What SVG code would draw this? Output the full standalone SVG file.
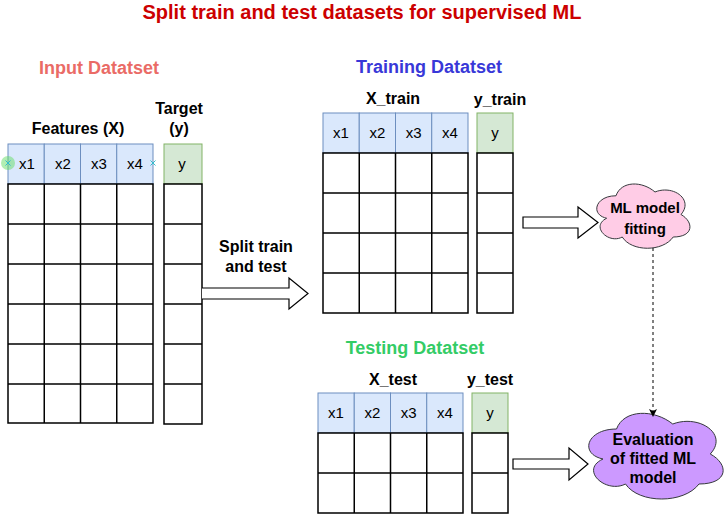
<svg xmlns="http://www.w3.org/2000/svg" width="728" height="514" viewBox="0 0 728 514">
<defs>
<style>
.t{font-family:"Liberation Sans",Arial,sans-serif;font-size:15px;fill:#000;text-anchor:middle}
.b{font-weight:bold;font-size:16px}
.h{font-weight:bold;font-size:18px}
.hx{fill:#dae8fc;stroke:#6c8ebf;stroke-width:1}
.hy{fill:#d5e8d4;stroke:#82b366;stroke-width:1}
.cell{fill:#fff;stroke:#000;stroke-width:1.5}
.blk{fill:#fff;stroke:#000;stroke-width:1.2}
</style>
<marker id="ah" markerWidth="10" markerHeight="10" refX="8" refY="5" orient="auto" markerUnits="userSpaceOnUse">
<path d="M1,1 L9,5 L1,9 L3,5 Z" fill="#000"/>
</marker>
</defs>
<rect width="728" height="514" fill="#fff"/>
<text x="362" y="19" class="t" style="font-size:20px;font-weight:bold;fill:#cc0000">Split train and test datasets for supervised ML</text>

<g id="input-dataset">
<text x="99" y="74" class="t h" style="fill:#ea6b66">Input Datatset</text>
<text x="78" y="134" class="t b">Features (X)</text>
<text x="179" y="114" class="t b">Target</text>
<text x="179" y="134" class="t b">(y)</text>
<g>
<rect x="8" y="144" width="36.25" height="40" class="hx"/>
<rect x="44.25" y="144" width="36.25" height="40" class="hx"/>
<rect x="80.5" y="144" width="36.25" height="40" class="hx"/>
<rect x="116.75" y="144" width="36.25" height="40" class="hx"/>
<text x="27" y="169" class="t">x1</text>
<text x="63" y="169" class="t">x2</text>
<text x="99" y="169" class="t">x3</text>
<text x="135" y="169" class="t">x4</text>
<rect x="164" y="144" width="38" height="40" class="hy"/>
<text x="182" y="169" class="t">y</text>
<path class="cell" d="M8,184 H153 V423 H8 Z M8,224 H153 M8,264 H153 M8,304 H153 M8,344 H153 M8,384 H153 M44.25,184 V423 M80.5,184 V423 M116.75,184 V423"/>
<path class="cell" d="M164,184 H202 V424 H164 Z M164,224 H202 M164,264 H202 M164,304 H202 M164,344 H202 M164,384 H202"/>
<circle cx="8" cy="163" r="7" fill="#66dd66" fill-opacity="0.5"/>
<path d="M5.5,160.5 L10.5,165.5 M10.5,160.5 L5.5,165.5 M150.5,160.5 L155.5,165.5 M155.5,160.5 L150.5,165.5" stroke="#33bbcc" stroke-width="1"/>
</g>
</g>

<g id="training-dataset">
<text x="429" y="73" class="t h" style="fill:#3838d8">Training Datatset</text>
<text x="393" y="104" class="t b">X_train</text>
<text x="500" y="105" class="t b">y_train</text>
<rect x="323" y="113" width="36.25" height="40" class="hx"/>
<rect x="359.25" y="113" width="36.25" height="40" class="hx"/>
<rect x="395.5" y="113" width="36.25" height="40" class="hx"/>
<rect x="431.75" y="113" width="36.25" height="40" class="hx"/>
<text x="341" y="138" class="t">x1</text>
<text x="377.4" y="138" class="t">x2</text>
<text x="413.6" y="138" class="t">x3</text>
<text x="449.9" y="138" class="t">x4</text>
<rect x="477" y="113" width="36" height="40" class="hy"/>
<text x="495" y="138" class="t">y</text>
<path class="cell" d="M323,153 H468 V313 H323 Z M323,193 H468 M323,233 H468 M323,273 H468 M359.25,153 V313 M395.5,153 V313 M431.75,153 V313"/>
<path class="cell" d="M477,153 H513 V313 H477 Z M477,193 H513 M477,233 H513 M477,273 H513"/>
</g>

<g id="testing-dataset">
<text x="415" y="354" class="t h" style="fill:#33cc66">Testing Datatset</text>
<text x="393" y="385" class="t b">X_test</text>
<text x="490" y="385" class="t b">y_test</text>
<rect x="318" y="393" width="36.25" height="40" class="hx"/>
<rect x="354.25" y="393" width="36.25" height="40" class="hx"/>
<rect x="390.5" y="393" width="36.25" height="40" class="hx"/>
<rect x="426.75" y="393" width="36.25" height="40" class="hx"/>
<text x="336" y="418" class="t">x1</text>
<text x="372.4" y="418" class="t">x2</text>
<text x="408.6" y="418" class="t">x3</text>
<text x="444.9" y="418" class="t">x4</text>
<rect x="472" y="393" width="36" height="40" class="hy"/>
<text x="490" y="418" class="t">y</text>
<path class="cell" d="M318,433 H463 V513 H318 Z M318,473 H463 M354.25,433 V513 M390.5,433 V513 M426.75,433 V513"/>
<path class="cell" d="M472,433 H508 V513 H472 Z M472,473 H508"/>
</g>

<g id="ml-fitting">
<path d="M616,195.75 C595.2,195.75 590,214.5 606.64,218.25 C590,226.5 608.72,244.5 622.24,237 C631.6,252 662.8,252 673.2,237 C694,237 694,222 681,214.5 C694,199.5 673.2,184.5 655,192 C642,180.75 621.2,180.75 616,195.75 Z" fill="#ffcce6" stroke="#36393d" stroke-width="1"/>
<text x="645" y="213" class="t b" style="font-size:15px">ML model</text>
<text x="645" y="234" class="t b" style="font-size:15px">fitting</text>
</g>

<g id="evaluation">
<path d="M616.5,429 C586.5,429 579,454 603,459 C579,470 606,494 625.5,484 C639,504 684,504 699,484 C729,484 729,464 710.25,454 C729,434 699,414 672.75,424 C654,409 624,409 616.5,429 Z" fill="#cc99ff" stroke="#36393d" stroke-width="1"/>
<text x="653" y="445" class="t b">Evaluation</text>
<text x="653" y="464" class="t b">of fitted ML</text>
<text x="653" y="483" class="t b">model</text>
</g>

<g id="connectors">
<text x="256" y="252" class="t b">Split train</text>
<text x="256" y="272" class="t b">and test</text>
<path class="blk" d="M202,288 H289 V278 L308,293.5 L289,309 V299 H202"/>
<path class="blk" d="M523,217 H578 V207 L598,222.5 L578,238 V228 H523 Z"/>
<path class="blk" d="M513,459 H569 V448 L588,464 L569,480 V469 H513 Z"/>
<line x1="653" y1="248" x2="653" y2="416" stroke="#000" stroke-width="1" stroke-dasharray="3,3" marker-end="url(#ah)"/>
</g>
</svg>
